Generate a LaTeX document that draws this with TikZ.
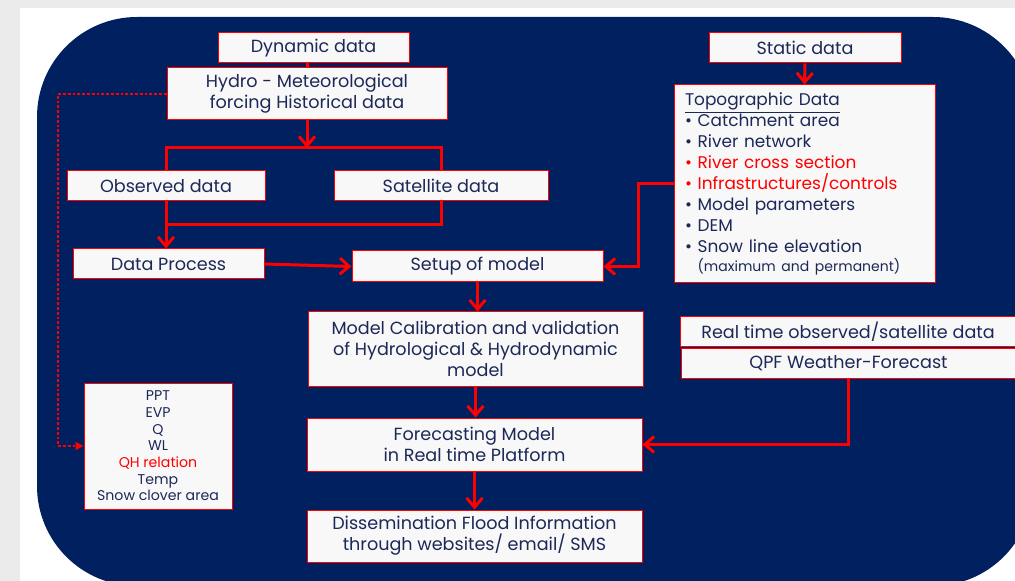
\documentclass[tikz,border=0pt]{standalone}
\usepackage{fontspec}
\setmainfont{Poppins}
\usetikzlibrary{arrows.meta}
\definecolor{navy}{RGB}{0,32,96}
\definecolor{ink}{RGB}{28,40,88}
\definecolor{boxfill}{RGB}{248,248,248}
\definecolor{bggray}{RGB}{235,235,235}
\definecolor{hred}{RGB}{255,0,0}
\begin{document}
\begin{tikzpicture}[x=0.75pt,y=-0.75pt,
  box/.style 2 args={draw=hred, line width=0.75pt, fill=boxfill, text=ink, inner sep=0pt,
    minimum width=#1*0.75pt, minimum height=#2*0.75pt, align=center,
    font=\fontsize{13.2}{15.75}\selectfont},
  link/.style={draw=hred, line width=2.25pt},
  arr/.style={link, -{Straight Barb[length=7pt,width=12pt]}},
  dotlink/.style={draw=hred, line width=1.5pt, dash pattern=on 2pt off 1.6pt,
    -{Triangle[length=6pt,width=6pt]}}
]
\useasboundingbox (0,0) rectangle (1015,581);
\clip (0,0) rectangle (1015,581);
\fill[bggray] (0,0) rectangle (1015,581);
\fill[white] (20,8) rectangle (1015,581);
\fill[navy, rounded corners=75pt] (37,17) rectangle (1033,586);

% nodes
\node[box={191}{30}] (dyn) at (313.5,48) {Dynamic data};
\node[box={280}{52}] (hydro) at (307,94) {Hydro - Meteorological\\forcing Historical data};
\node[box={198}{30}] (obs) at (166,186) {Observed data};
\node[box={214}{30}] (sat) at (441,186) {Satellite data};
\node[box={191}{30}] (dp) at (168.5,264) {Data Process};
\node[box={251}{31}] (setup) at (477.5,266.5) {Setup of model};
\node[box={192}{30}] (static) at (805,48) {Static data};
\node[box={261}{198}, align=left, text width=239*0.75pt, font=\fontsize{12.7}{15.75}\selectfont] (topo) at (804.5,184) {%
\underline{Topographic Data}\\
\textbullet{} Catchment area\\
\textbullet{} River network\\
\textcolor{hred}{\textbullet{} River cross section}\\
\textcolor{hred}{\textbullet{} Infrastructures/controls}\\
\textbullet{} Model parameters\\
\textbullet{} DEM\\
\textbullet{} Snow line elevation\\[-1.5pt]
\hphantom{\textbullet{}~}{\fontsize{10.5}{12}\selectfont (maximum and permanent)}};
\node[box={335}{74}] (calib) at (475.5,349) {Model Calibration and validation\\of Hydrological \& Hydrodynamic\\model};
\node[box={335}{53}] (fore) at (474.5,444.5) {Forecasting Model\\in Real time Platform};
\node[box={335}{52}] (diss) at (474.5,536) {Dissemination Flood Information\\through websites/ email/ SMS};
\node[box={148}{126}, font=\fontsize{10.6}{12.5}\selectfont] (ppt) at (158,446) {PPT\\EVP\\Q\\WL\\\textcolor{hred}{QH relation}\\Temp\\Snow clover area};
\node[box={336}{30}] (rt) at (848,332) {Real time observed/satellite data};
\node[box={335}{29}] (qpf) at (848.5,363.5) {QPF Weather-Forecast};

% helper coordinates
\coordinate (split) at (307,148);
\coordinate (merge) at (166,225);
\coordinate (tbend) at (638,184);
\coordinate (dl) at (58,94);

% connectors
\draw[link] (dyn.south -| hydro.north) -- (hydro.north);
\draw[arr] (hydro.south) -- (split);
\draw[link] (obs.north) -- (obs.north |- split) -- (sat.north |- split) -- (sat.north);
\draw[link] (sat.south) -- (sat.south |- merge) -- (merge);
\draw[arr] (obs.south) -- (obs.south |- dp.north);
\draw[arr] (dp.east) -- (setup.west);
\draw[arr] (static.south) -- (topo.north);
\draw[arr] (topo.west) -- (tbend) |- (setup.east);
\draw[arr] (setup.south) -- (setup.south |- calib.north);
\draw[arr] (calib.south) -- (calib.south |- fore.north);
\draw[arr] (fore.south) -- (fore.south |- diss.north);
\draw[arr] (qpf.south) |- (fore.east);
\draw[dotlink] (hydro.west) -- (dl) |- (ppt.west);
\end{tikzpicture}
\end{document}
